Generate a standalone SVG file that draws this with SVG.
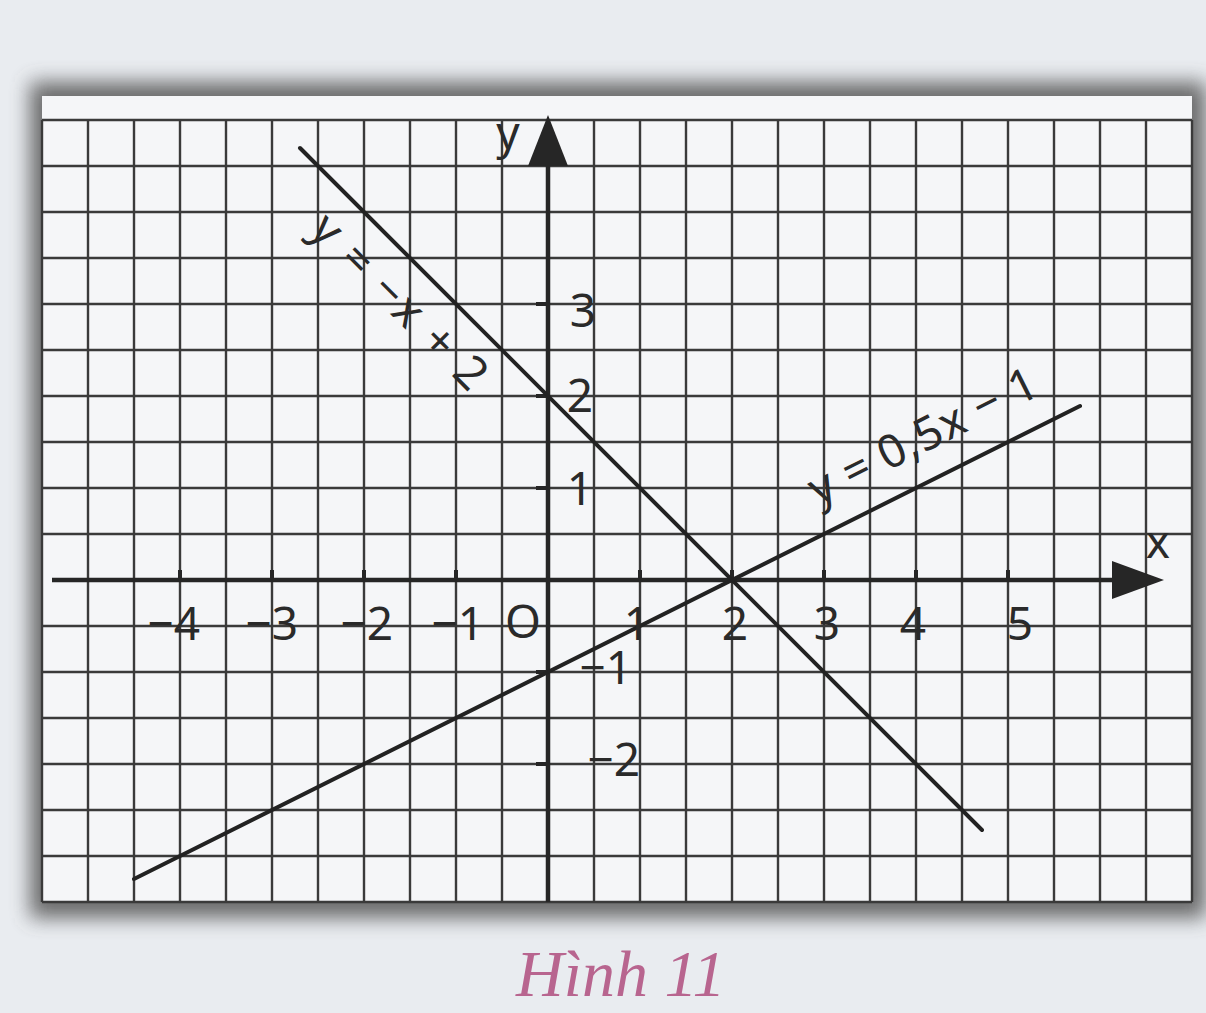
<svg xmlns="http://www.w3.org/2000/svg" width="1206" height="1013" viewBox="0 0 1206 1013">
  <defs>
    <filter id="shadow" x="-10%" y="-10%" width="120%" height="120%">
      <feGaussianBlur stdDeviation="10"/>
    </filter>
    <style>
      .grid { stroke: #3a3a3a; stroke-width: 2.4; fill: none; }
      .axis { stroke: #262626; stroke-width: 4.5; fill: none; }
      .tick { stroke: #262626; stroke-width: 4; fill: none; }
      .fn { stroke: #222222; stroke-width: 4; fill: none; stroke-linecap: round; }
      .arrow { fill: #262626; }
      .lbl { font-family: "Noto Sans", "Open Sans", sans-serif; font-size: 46px; fill: #2a2a2a; }
      .cap { font-family: "Liberation Serif", serif; font-style: italic; font-size: 66px; fill: #b8658f; }
    </style>
  </defs>

  <!-- page background -->
  <rect x="0" y="0" width="1206" height="1013" fill="#e9ecf0"/>

  <!-- paper card with shadow -->
  <g id="paper">
    <rect x="30" y="82" width="1176" height="836" fill="#555555" opacity="0.85" filter="url(#shadow)"/>
    <rect x="42" y="96" width="1150" height="806" fill="#f5f6f8"/>
  </g>

  <!-- grid -->
  <g id="grid">
    <path class="grid" d="M42 120V902 M88 120V902 M134 120V902 M180 120V902 M226 120V902 M272 120V902 M318 120V902 M364 120V902 M410 120V902 M456 120V902 M502 120V902 M594 120V902 M640 120V902 M686 120V902 M732 120V902 M778 120V902 M824 120V902 M870 120V902 M916 120V902 M962 120V902 M1008 120V902 M1054 120V902 M1100 120V902 M1146 120V902 M1192 120V902"/>
    <path class="grid" d="M42 120H1192 M42 166H1192 M42 212H1192 M42 258H1192 M42 304H1192 M42 350H1192 M42 396H1192 M42 442H1192 M42 488H1192 M42 534H1192 M42 626H1192 M42 672H1192 M42 718H1192 M42 764H1192 M42 810H1192 M42 856H1192 M42 902H1192"/>
  </g>

  <!-- axes (connectors) -->
  <g id="connectors">
    <path class="axis" d="M52 580H1120"/>
    <polygon class="arrow" points="1164,580 1112,561 1112,599"/>
    <path class="axis" d="M548 902V158"/>
    <polygon class="arrow" points="548,115 528,166 568,166"/>
    <path class="tick" d="M536 488H548 M536 396H548 M536 304H548 M536 672H548 M536 764H548 M180 570V580 M272 570V580 M364 570V580 M456 570V580 M640 570V580 M732 570V580 M824 570V580 M916 570V580 M1008 570V580"/>
    <!-- y = -x + 2 -->
    <line id="line1" class="fn" x1="300" y1="148" x2="982" y2="830"/>
    <!-- y = 0.5x - 1 -->
    <line id="line2" class="fn" x1="134" y1="879" x2="1080" y2="406"/>
  </g>

  <!-- axis names -->
  <g id="axis-names">
    <text class="lbl" x="508" y="149" text-anchor="middle">y</text>
    <text class="lbl" x="1158" y="558" text-anchor="middle">x</text>
  </g>

  <!-- x-axis labels -->
  <g id="x-labels">
    <text class="lbl" x="200" y="640" text-anchor="end">−4</text>
    <text class="lbl" x="298" y="640" text-anchor="end">−3</text>
    <text class="lbl" x="393" y="640" text-anchor="end">−2</text>
    <text class="lbl" x="484" y="640" text-anchor="end">−1</text>
    <text class="lbl" x="523" y="638" text-anchor="middle">O</text>
    <text class="lbl" x="637" y="640" text-anchor="middle">1</text>
    <text class="lbl" x="735" y="640" text-anchor="middle">2</text>
    <text class="lbl" x="827" y="640" text-anchor="middle">3</text>
    <text class="lbl" x="913" y="640" text-anchor="middle">4</text>
    <text class="lbl" x="1020" y="640" text-anchor="middle">5</text>
  </g>

  <!-- y-axis labels -->
  <g id="y-labels">
    <text class="lbl" x="583" y="327" text-anchor="middle">3</text>
    <text class="lbl" x="580" y="412" text-anchor="middle">2</text>
    <text class="lbl" x="580" y="505" text-anchor="middle">1</text>
    <text class="lbl" x="632" y="684" text-anchor="end">−1</text>
    <text class="lbl" x="640" y="776" text-anchor="end">−2</text>
  </g>

  <!-- function labels -->
  <g id="fn-labels">
    <text class="lbl" transform="translate(308,232) rotate(45)" textLength="228" lengthAdjust="spacing">y = −x + 2</text>
    <text class="lbl" transform="translate(818,506) rotate(-26.57)" textLength="250" lengthAdjust="spacing">y = 0,5x − 1</text>
  </g>

  <!-- caption -->
  <g id="caption">
    <text class="cap" x="516" y="996">Hình 11</text>
  </g>
</svg>
